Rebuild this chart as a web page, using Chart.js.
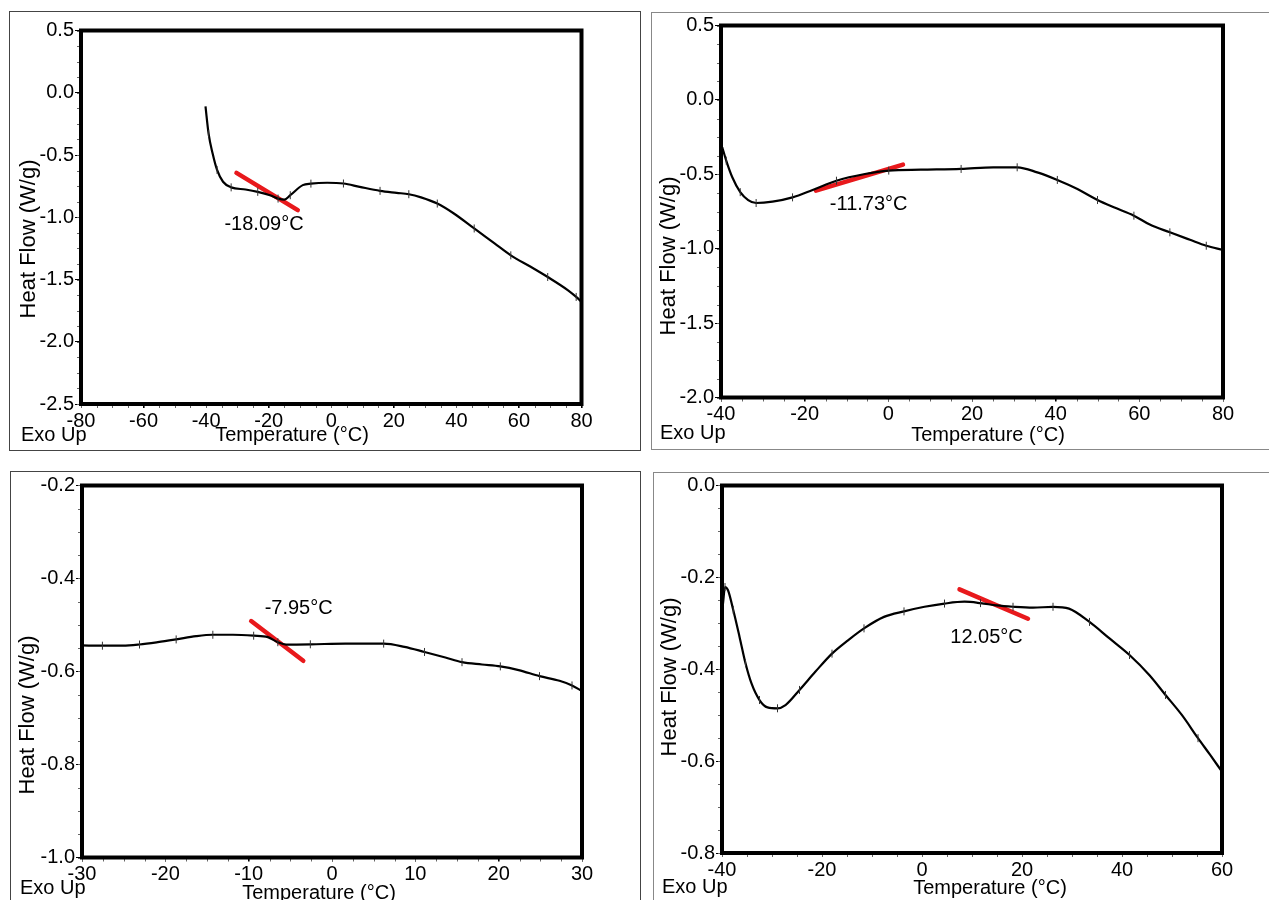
<!DOCTYPE html>
<html>
<head>
<meta charset="utf-8">
<script src="https://cdn.jsdelivr.net/npm/chart.js@4.4.0/dist/chart.umd.min.js"></script>
<style>
  html, body { margin: 0; padding: 0; background: #fff; width: 1269px; height: 900px; overflow: hidden; }
  canvas { position: absolute; }
</style>
</head>
<body>
<canvas id="dsc1" width="632" height="440" style="left:9px;top:11px"></canvas>
<canvas id="dsc2" width="625" height="438" style="left:651px;top:12px"></canvas>
<canvas id="dsc3" width="631" height="440" style="left:10px;top:471px"></canvas>
<canvas id="dsc4" width="623" height="440" style="left:653px;top:472px"></canvas>
<script>
// curva 1 (-80..80)
const temp1 = [-40.2, -39.2, -37.9, -36.5, -34.6, -32, -27.4, -23.5, -19.6, -17, -15, -13.1, -9.1, -6.5, -1.3, 3.9, 9.1, 15.6, 20.9, 24.8, 28.7, 33.9, 39.2, 45.7, 52.2, 57.4, 63.9, 69.2, 75.7, 78.3, 80];
const fluxo1 = [-0.11, -0.33, -0.49, -0.62, -0.715, -0.76, -0.777, -0.796, -0.823, -0.85, -0.858, -0.823, -0.742, -0.73, -0.723, -0.729, -0.756, -0.788, -0.804, -0.815, -0.84, -0.89, -0.97, -1.09, -1.21, -1.306, -1.40, -1.48, -1.587, -1.64, -1.68];
const tang1x = [-30.3, -10.7];
const tang1y = [-0.643, -0.943];

// curva 2 (-40..80)
const temp2 = [-39.7, -38.75, -37.3, -35.4, -33.5, -31.6, -27.7, -22.9, -18.1, -12.4, -5.6, 0.1, 7.8, 17.4, 25.1, 30.8, 35.6, 40.4, 45.2, 50, 53.9, 58.7, 62.5, 67.3, 72.1, 76, 80];
const fluxo2 = [-0.318, -0.408, -0.52, -0.62, -0.673, -0.693, -0.684, -0.655, -0.605, -0.543, -0.498, -0.475, -0.469, -0.464, -0.453, -0.453, -0.487, -0.538, -0.599, -0.673, -0.722, -0.778, -0.838, -0.89, -0.94, -0.98, -1.009];
const tang2x = [-17.3, 3.5];
const tang2y = [-0.61, -0.435];

// curva 3 (-30..30)
const temp3 = [-30, -27.55, -25.1, -23.1, -20.9, -18.7, -16.3, -14.3, -11.9, -9.4, -7.7, -6.5, -5.5, -2.6, 1.6, 6.2, 8.7, 11.1, 13.6, 15.6, 18, 20.2, 22.4, 24.9, 27.3, 28.8, 30];
const fluxo3 = [-0.544, -0.5445, -0.5445, -0.542, -0.537, -0.531, -0.524, -0.521, -0.521, -0.523, -0.526, -0.537, -0.542, -0.5415, -0.54, -0.54, -0.547, -0.558, -0.57, -0.58, -0.585, -0.589, -0.597, -0.61, -0.62, -0.63, -0.642];
const tang3x = [-9.7, -3.45];
const tang3y = [-0.4915, -0.577];

// curva 4 (-40..60)
const temp4 = [-39.8, -39.4, -38.8, -37.75, -36.5, -35.3, -34.1, -32.5, -30.9, -28.9, -27.3, -24.5, -21.3, -18, -14.8, -11.6, -7.6, -3.6, 0.5, 4.5, 8.5, 11.7, 14.9, 18.2, 22.2, 26.2, 29.4, 33.5, 37.5, 41.5, 45.5, 48.7, 52, 55.2, 57.6, 60];
const fluxo4 = [-0.257, -0.221, -0.228, -0.271, -0.329, -0.387, -0.431, -0.467, -0.483, -0.485, -0.478, -0.445, -0.405, -0.366, -0.337, -0.311, -0.286, -0.274, -0.264, -0.257, -0.253, -0.256, -0.261, -0.264, -0.266, -0.264, -0.268, -0.297, -0.333, -0.369, -0.413, -0.456, -0.5, -0.55, -0.586, -0.623];
const tang4x = [7.5, 21.2];
const tang4y = [-0.226, -0.29];

// rótulos de Tg
const rotulos = ['-18.09°C', '-11.73°C', '-7.95°C', '12.05°C'];
const rotuloX = [-21.5, -4.7, -4.0, 12.9];
const rotuloY = [-1.06, -0.70, -0.465, -0.33];

const FONTE = '"Liberation Sans", Arial, sans-serif';
Chart.defaults.font.family = FONTE;
Chart.defaults.color = '#000';

const pontos = (xs, ys) => xs.map((x, i) => ({ x: x, y: ys[i] }));

// geometria de cada painel (canvas + área do gráfico, em px relativos ao canvas)
const paineis = [
  { id: 'dsc1', temp: temp1, fluxo: fluxo1, tx: tang1x, ty: tang1y, xMin: -80, xMax: 80, xStep: 20, yMin: -2.5, yMax: 0.5, yStep: 0.5,
    area: [72, 19.5, 572.5, 393], moldura: '#444', tituloX: [283, 424], tituloY: [20, 228], exo: [12, 424] },
  { id: 'dsc2', temp: temp2, fluxo: fluxo2, tx: tang2x, ty: tang2y, xMin: -40, xMax: 80, xStep: 20, yMin: -2.0, yMax: 0.5, yStep: 0.5,
    area: [70, 13.5, 572, 385.5], moldura: '#888', tituloX: [337, 423], tituloY: [18, 244], exo: [9, 421] },
  { id: 'dsc3', temp: temp3, fluxo: fluxo3, tx: tang3x, ty: tang3y, xMin: -30, xMax: 30, xStep: 10, yMin: -1.0, yMax: -0.2, yStep: 0.2,
    area: [72, 14.5, 572, 386.5], moldura: '#444', tituloX: [309, 422], tituloY: [18, 244], exo: [10, 417] },
  { id: 'dsc4', temp: temp4, fluxo: fluxo4, tx: tang4x, ty: tang4y, xMin: -40, xMax: 60, xStep: 20, yMin: -0.8, yMax: 0.0, yStep: 0.2,
    area: [69, 13.5, 569, 381], moldura: '#888', tituloX: [337, 416], tituloY: [17, 205], exo: [9, 415] }
];

function linha(ctx, x1, y1, x2, y2) {
  ctx.beginPath(); ctx.moveTo(x1, y1); ctx.lineTo(x2, y2); ctx.stroke();
}

function desenharPainel(p, idx) {
  const canvas = document.getElementById(p.id);
  const w = canvas.width, h = canvas.height;
  const [l, t, r, b] = p.area;

  const moldura = {
    id: 'moldura' + idx,
    afterDraw(chart) {
      const ctx = chart.ctx, a = chart.chartArea;
      const xs = chart.scales.x, ys = chart.scales.y;
      ctx.save();
      ctx.strokeStyle = p.moldura;
      ctx.lineWidth = 1;
      ctx.strokeRect(0.5, 0.5, w - 1, h - 1);

      // marcas menores
      ctx.strokeStyle = '#666';
      const mx = p.xStep / 4, my = p.yStep / 4;
      for (let v = p.xMin; v <= p.xMax + 1e-9; v += mx) {
        const px = Math.round(xs.getPixelForValue(v)) + 0.5;
        linha(ctx, px, a.bottom, px, a.bottom + 4);
      }
      for (let v = p.yMin; v <= p.yMax + 1e-9; v += my) {
        const py = Math.round(ys.getPixelForValue(v)) + 0.5;
        linha(ctx, a.left - 4, py, a.left, py);
      }

      ctx.strokeStyle = '#000';
      ctx.lineWidth = 4;
      ctx.strokeRect(a.left, a.top, a.right - a.left, a.bottom - a.top);

      ctx.fillStyle = '#000';
      ctx.textBaseline = 'middle';
      ctx.font = '20px ' + FONTE;
      ctx.textAlign = 'center';
      ctx.fillText('Temperature (°C)', p.tituloX[0], p.tituloX[1]);
      ctx.fillText(rotulos[idx], xs.getPixelForValue(rotuloX[idx]), ys.getPixelForValue(rotuloY[idx]));
      ctx.textAlign = 'left';
      ctx.fillText('Exo Up', p.exo[0], p.exo[1]);

      ctx.translate(p.tituloY[0], p.tituloY[1]);
      ctx.rotate(-Math.PI / 2);
      ctx.textAlign = 'center';
      ctx.font = '22px ' + FONTE;
      ctx.fillText('Heat Flow (W/g)', 0, 0);
      ctx.restore();
    }
  };

  return new Chart(canvas.getContext('2d'), {
    type: 'line',
    data: {
      datasets: [{
        data: pontos(p.temp, p.fluxo),
        borderColor: '#000',
        borderWidth: 2.2,
        cubicInterpolationMode: 'monotone',
        pointStyle: 'line',
        pointRotation: 90,
        pointRadius: c => (c.dataIndex % 2 === 1 ? 4 : 0),
        pointBorderColor: '#333',
        pointBorderWidth: 1
      }, {
        data: pontos(p.tx, p.ty),
        borderColor: '#e8191c',
        borderWidth: 4.5,
        borderCapStyle: 'round',
        pointRadius: 0
      }]
    },
    options: {
      responsive: false,
      animation: false,
      events: [],
      layout: { padding: { left: 0, top: t, right: w - r, bottom: 0 } },
      plugins: { legend: { display: false }, tooltip: { enabled: false } },
      scales: {
        x: {
          type: 'linear', min: p.xMin, max: p.xMax,
          border: { display: false },
          grid: { drawOnChartArea: false, drawTicks: true, tickLength: 4, color: '#000' },
          ticks: { stepSize: p.xStep, padding: 1, maxRotation: 0, autoSkip: false, font: { size: 20 }, callback: v => String(v) },
          afterFit: s => { s.height = h - b; }
        },
        y: {
          type: 'linear', min: p.yMin, max: p.yMax,
          border: { display: false },
          grid: { drawOnChartArea: false, drawTicks: true, tickLength: 6, color: '#000' },
          ticks: { stepSize: p.yStep, padding: 1, autoSkip: false, font: { size: 20 }, callback: v => v.toFixed(1) },
          afterFit: s => { s.width = l; }
        }
      }
    },
    plugins: [moldura]
  });
}

window.onload = function () {
  paineis.forEach((p, i) => desenharPainel(p, i));
};
</script>
</body>
</html>
